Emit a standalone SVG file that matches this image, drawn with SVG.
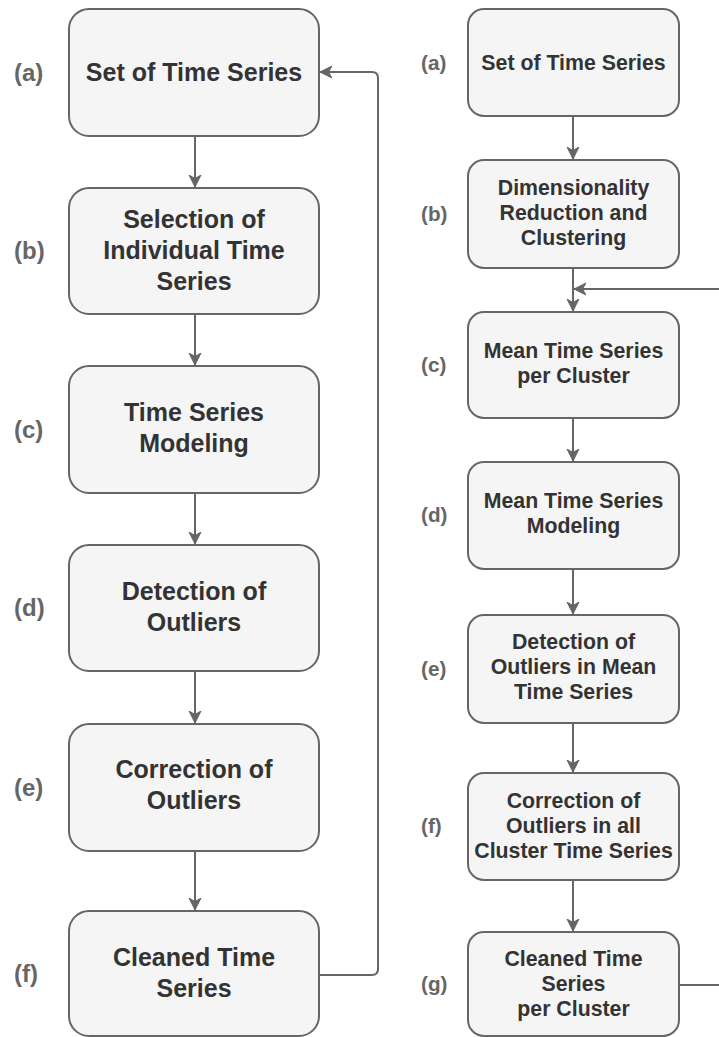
<svg xmlns="http://www.w3.org/2000/svg" width="719" height="1037" viewBox="0 0 719 1037">
<style>
.box{fill:#f5f5f5;stroke:#666;stroke-width:2}
.t{font-family:"Liberation Sans",Arial,sans-serif;font-weight:bold;fill:#333;text-anchor:middle}
.tl{font-size:25px}
.tr{font-size:21.3px}
.lab{font-family:"Liberation Sans",Arial,sans-serif;font-weight:bold;fill:#666}
.ll{font-size:24px}
.lr{font-size:20.7px}
.c{fill:none;stroke:#666;stroke-width:2}
</style>
<defs>
<marker id="ah" markerUnits="userSpaceOnUse" markerWidth="14" markerHeight="14" refX="12" refY="6" orient="auto" viewBox="0 0 14 12">
<path d="M0,0 L12,6 L0,12 L3.5,6 z" fill="#666" stroke="#666" stroke-width="1"/>
</marker>
</defs>
<rect width="719" height="1037" fill="#fff"/>

<g id="connectors">
<line class="c" x1="195" y1="136" x2="195" y2="187" marker-end="url(#ah)"/>
<line class="c" x1="195" y1="314" x2="195" y2="365" marker-end="url(#ah)"/>
<line class="c" x1="195" y1="493" x2="195" y2="544" marker-end="url(#ah)"/>
<line class="c" x1="195" y1="671" x2="195" y2="723" marker-end="url(#ah)"/>
<line class="c" x1="195" y1="851" x2="195" y2="910" marker-end="url(#ah)"/>
<path class="c" d="M319,975 L372,975 Q378,975 378,969 L378,78 Q378,72 372,72 L320,72" marker-end="url(#ah)"/>

<line class="c" x1="573" y1="116" x2="573" y2="159" marker-end="url(#ah)"/>
<line class="c" x1="573" y1="268" x2="573" y2="311" marker-end="url(#ah)"/>
<line class="c" x1="573" y1="418" x2="573" y2="461" marker-end="url(#ah)"/>
<line class="c" x1="573" y1="569" x2="573" y2="614" marker-end="url(#ah)"/>
<line class="c" x1="573" y1="723" x2="573" y2="772" marker-end="url(#ah)"/>
<line class="c" x1="573" y1="880" x2="573" y2="931" marker-end="url(#ah)"/>
<line class="c" x1="720" y1="289" x2="574" y2="289" marker-end="url(#ah)"/>
<line class="c" x1="679" y1="985" x2="720" y2="985"/>
</g>

<g id="L-a">
<rect class="box" x="69" y="9" width="250" height="127" rx="20"/>
<text class="t tl" x="194" y="80.5">Set of Time Series</text>
<text class="lab ll" x="14" y="80.5">(a)</text>
</g>
<g id="L-b">
<rect class="box" x="69" y="188" width="250" height="126" rx="20"/>
<text class="t tl" x="194" y="228">Selection of</text>
<text class="t tl" x="194" y="259">Individual Time</text>
<text class="t tl" x="194" y="290">Series</text>
<text class="lab ll" x="14" y="259">(b)</text>
</g>
<g id="L-c">
<rect class="box" x="69" y="366" width="250" height="127" rx="20"/>
<text class="t tl" x="194" y="421">Time Series</text>
<text class="t tl" x="194" y="452">Modeling</text>
<text class="lab ll" x="14" y="438">(c)</text>
</g>
<g id="L-d">
<rect class="box" x="69" y="545" width="250" height="126" rx="20"/>
<text class="t tl" x="194" y="600">Detection of</text>
<text class="t tl" x="194" y="631">Outliers</text>
<text class="lab ll" x="14" y="616">(d)</text>
</g>
<g id="L-e">
<rect class="box" x="69" y="724" width="250" height="127" rx="20"/>
<text class="t tl" x="194" y="778">Correction of</text>
<text class="t tl" x="194" y="809">Outliers</text>
<text class="lab ll" x="14" y="796">(e)</text>
</g>
<g id="L-f">
<rect class="box" x="69" y="911" width="250" height="125" rx="20"/>
<text class="t tl" x="194" y="966">Cleaned Time</text>
<text class="t tl" x="194" y="997">Series</text>
<text class="lab ll" x="14" y="982">(f)</text>
</g>

<g id="R-a">
<rect class="box" x="468" y="9" width="211" height="107" rx="16"/>
<text class="t tr" x="573.5" y="70">Set of Time Series</text>
<text class="lab lr" x="421" y="70">(a)</text>
</g>
<g id="R-b">
<rect class="box" x="468" y="160" width="211" height="108" rx="16"/>
<text class="t tr" x="573.5" y="195">Dimensionality</text>
<text class="t tr" x="573.5" y="220">Reduction and</text>
<text class="t tr" x="573.5" y="245">Clustering</text>
<text class="lab lr" x="421" y="221">(b)</text>
</g>
<g id="R-c">
<rect class="box" x="468" y="312" width="211" height="106" rx="16"/>
<text class="t tr" x="573.5" y="358">Mean Time Series</text>
<text class="t tr" x="573.5" y="383">per Cluster</text>
<text class="lab lr" x="421" y="372">(c)</text>
</g>
<g id="R-d">
<rect class="box" x="468" y="462" width="211" height="107" rx="16"/>
<text class="t tr" x="573.5" y="508">Mean Time Series</text>
<text class="t tr" x="573.5" y="533">Modeling</text>
<text class="lab lr" x="421" y="522">(d)</text>
</g>
<g id="R-e">
<rect class="box" x="468" y="615" width="211" height="108" rx="16"/>
<text class="t tr" x="573.5" y="649">Detection of</text>
<text class="t tr" x="573.5" y="674">Outliers in Mean</text>
<text class="t tr" x="573.5" y="699">Time Series</text>
<text class="lab lr" x="421" y="676">(e)</text>
</g>
<g id="R-f">
<rect class="box" x="468" y="773" width="211" height="107" rx="16"/>
<text class="t tr" x="573.5" y="808">Correction of</text>
<text class="t tr" x="573.5" y="833">Outliers in all</text>
<text class="t tr" x="573.5" y="858">Cluster Time Series</text>
<text class="lab lr" x="421" y="833">(f)</text>
</g>
<g id="R-g">
<rect class="box" x="468" y="932" width="211" height="104" rx="16"/>
<text class="t tr" x="573.5" y="966">Cleaned Time</text>
<text class="t tr" x="573.5" y="991">Series</text>
<text class="t tr" x="573.5" y="1016">per Cluster</text>
<text class="lab lr" x="421" y="991">(g)</text>
</g>
</svg>
